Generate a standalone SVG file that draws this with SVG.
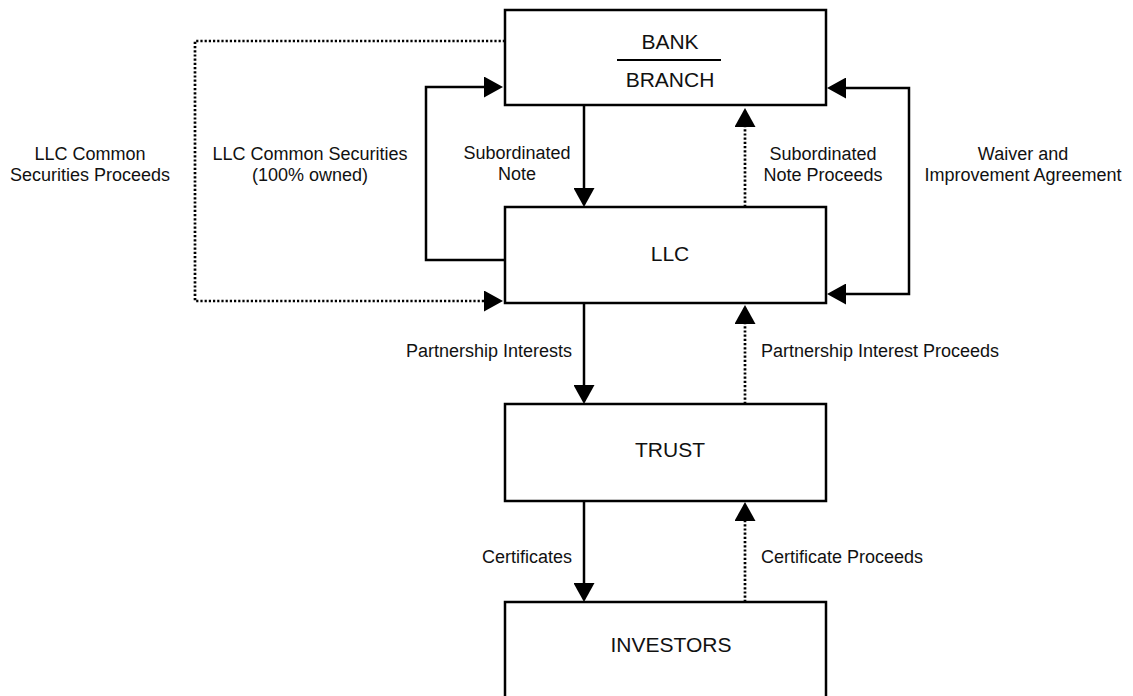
<svg xmlns="http://www.w3.org/2000/svg" width="1133" height="696" viewBox="0 0 1133 696">
  <style>
    .box { fill: #fff; stroke: #000; stroke-width: 2.5; }
    .name { font-family: "Liberation Sans", Arial, sans-serif; font-size: 21px; fill: #111; text-anchor: middle; }
    .lbl { font-family: "Liberation Sans", Arial, sans-serif; font-size: 18px; fill: #111; }
    .mid { text-anchor: middle; }
    .end { text-anchor: end; }
    .solid { fill: none; stroke: #000; stroke-width: 2.5; marker-end: url(#head); }
    .dot { fill: none; stroke: #000; stroke-width: 2.7; stroke-dasharray: 2.2 2; marker-end: url(#head); }
    .both { marker-start: url(#head); }
  </style>
  <defs>
    <marker id="head" markerUnits="userSpaceOnUse" viewBox="0 0 19 21" refX="11" refY="10.5" markerWidth="19" markerHeight="21" orient="auto-start-reverse">
      <path d="M0,0 L19,10.5 L0,21 z" fill="#000"/>
    </marker>
  </defs>

  <rect width="1133" height="696" fill="#fff"/>

  <!-- connectors -->
  <g id="connectors">
    <!-- LLC common securities proceeds (dotted loop on the far left) -->
    <path class="dot" d="M505,41 H195 V301 H495"/>
    <!-- LLC common securities, 100% owned -->
    <path class="solid" d="M505,260 H426 V87 H495"/>
    <!-- waiver and improvement agreement -->
    <path class="solid both" d="M835,88 H909 V294 H835"/>
    <!-- subordinated note / proceeds -->
    <path class="solid" d="M584,106 V199"/>
    <path class="dot" d="M745,207 V116"/>
    <!-- partnership interests / proceeds -->
    <path class="solid" d="M584,303 V396"/>
    <path class="dot" d="M745,404 V313"/>
    <!-- certificates / proceeds -->
    <path class="solid" d="M584,501 V594"/>
    <path class="dot" d="M745,602 V510"/>
  </g>

  <!-- nodes -->
  <g id="bank">
    <rect class="box" x="505" y="10" width="321" height="95"/>
    <text class="name" x="670" y="49">BANK</text>
    <line x1="617" y1="60" x2="721" y2="60" stroke="#000" stroke-width="2"/>
    <text class="name" x="670" y="87">BRANCH</text>
  </g>
  <g id="llc">
    <rect class="box" x="505" y="207" width="321" height="96"/>
    <text class="name" x="670" y="261">LLC</text>
  </g>
  <g id="trust">
    <rect class="box" x="505" y="404" width="321" height="97"/>
    <text class="name" x="670" y="457">TRUST</text>
  </g>
  <g id="investors">
    <rect class="box" x="505" y="602" width="321" height="100"/>
    <text class="name" x="671" y="652">INVESTORS</text>
  </g>

  <!-- connector labels -->
  <g id="labels">
    <text class="lbl mid" x="90" y="160">LLC Common</text>
    <text class="lbl mid" x="90" y="181">Securities Proceeds</text>

    <text class="lbl mid" x="310" y="160">LLC Common Securities</text>
    <text class="lbl mid" x="310" y="181">(100% owned)</text>

    <text class="lbl mid" x="517" y="159">Subordinated</text>
    <text class="lbl mid" x="517" y="180">Note</text>

    <text class="lbl mid" x="823" y="160">Subordinated</text>
    <text class="lbl mid" x="823" y="181">Note Proceeds</text>

    <text class="lbl mid" x="1023" y="160">Waiver and</text>
    <text class="lbl mid" x="1023" y="181">Improvement Agreement</text>

    <text class="lbl end" x="572" y="357">Partnership Interests</text>
    <text class="lbl" x="761" y="357">Partnership Interest Proceeds</text>

    <text class="lbl end" x="572" y="563">Certificates</text>
    <text class="lbl" x="761" y="563">Certificate Proceeds</text>
  </g>
</svg>
